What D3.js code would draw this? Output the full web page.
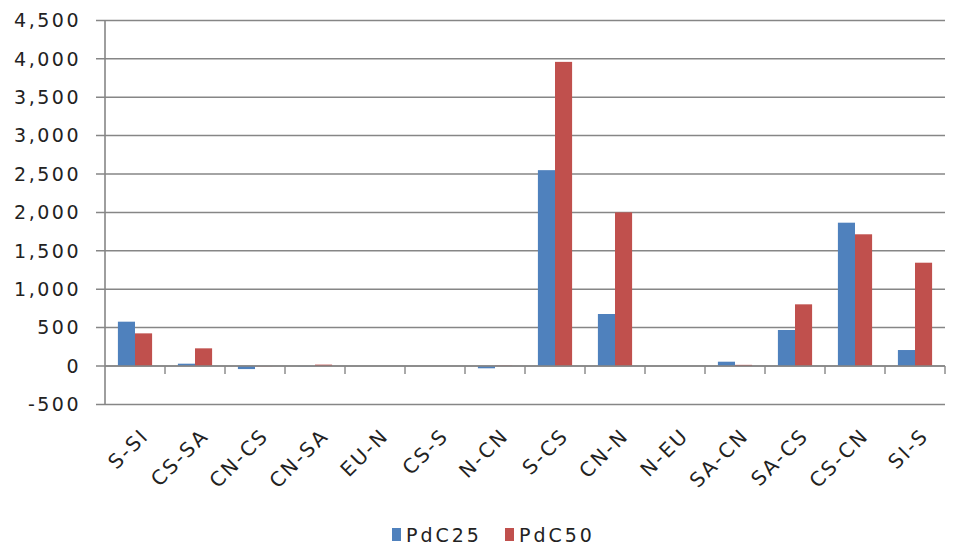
<!DOCTYPE html>
<html>
<head>
<meta charset="utf-8">
<script src="https://cdn.jsdelivr.net/npm/d3@7"></script>
<style>
  body { margin: 0; background: #fff; }
  svg { display: block; }
  text { font-family: "DejaVu Sans", Verdana, sans-serif; fill: #222; }
</style>
</head>
<body>
<svg id="chart" width="954" height="546"></svg>
<script>
// Flows between regions, two scenarios
const categories = ["S-SI", "CS-SA", "CN-CS", "CN-SA", "EU-N", "CS-S", "N-CN", "S-CS", "CN-N", "N-EU", "SA-CN", "SA-CS", "CS-CN", "SI-S"];
const seriesNames = ["PdC25", "PdC50"];
const pdc25 = [577, 30, -40, -3, 0, 0, -30, 2550, 677, 0, 56, 469, 1866, 208];
const pdc50 = [425, 230, -3, 18, 0, 0, 5, 3960, 2000, 0, 15, 803, 1715, 1345];
const yTicks = [-500, 0, 500, 1000, 1500, 2000, 2500, 3000, 3500, 4000, 4500];
const colors = ["#4F81BD", "#C0504D"];

const svg = d3.select("#chart");
const plotLeft = 105, plotRight = 945, plotTop = 20.4, plotBottom = 404.4;

const y = d3.scaleLinear().domain([-500, 4500]).range([plotBottom, plotTop]);
const x = d3.scaleBand().domain(categories).range([plotLeft, plotRight]).padding(0);
const xs = d3.scaleBand().domain(seriesNames)
  .range([x.bandwidth() * 0.215, x.bandwidth() * 0.785]).padding(0);

const gridColor = "#868686";
const fmt = d => d3.format(",")(d).replace("\u2212", "-");

// horizontal gridlines
svg.append("g")
  .selectAll("line")
  .data(yTicks)
  .join("line")
  .attr("x1", plotLeft - 9).attr("x2", plotRight)
  .attr("y1", d => y(d)).attr("y2", d => y(d))
  .attr("stroke", gridColor).attr("stroke-width", 1.5);

// y axis labels
svg.append("g")
  .selectAll("text")
  .data(yTicks)
  .join("text")
  .attr("x", 81).attr("y", d => y(d))
  .attr("dy", "0.36em")
  .attr("text-anchor", "end")
  .style("font-size", "19px")
  .style("letter-spacing", "2.5px")
  .text(fmt);

// bars
const rows = categories.map((c, i) => ({ cat: c, vals: [pdc25[i], pdc50[i]] }));
svg.append("g")
  .selectAll("g")
  .data(rows)
  .join("g")
  .attr("transform", d => `translate(${x(d.cat)},0)`)
  .selectAll("rect")
  .data(d => d.vals.map((v, j) => ({ key: seriesNames[j], v, j })))
  .join("rect")
  .attr("x", d => xs(d.key))
  .attr("width", xs.bandwidth())
  .attr("y", d => Math.min(y(d.v), y(0)))
  .attr("height", d => Math.abs(y(d.v) - y(0)))
  .attr("fill", d => colors[d.j]);

// y axis line
svg.append("line")
  .attr("x1", plotLeft).attr("x2", plotLeft)
  .attr("y1", plotTop).attr("y2", plotBottom)
  .attr("stroke", gridColor).attr("stroke-width", 1.6);

// category axis at zero with tick marks
svg.append("line")
  .attr("x1", plotLeft).attr("x2", plotRight)
  .attr("y1", y(0)).attr("y2", y(0))
  .attr("stroke", gridColor).attr("stroke-width", 1.6);
svg.append("g")
  .selectAll("line")
  .data(categories.map((d, i) => plotLeft + (i + 1) * x.step()))
  .join("line")
  .attr("x1", d => d).attr("x2", d => d)
  .attr("y1", y(0)).attr("y2", y(0) + 8)
  .attr("stroke", gridColor).attr("stroke-width", 1.4);

// rotated category labels
svg.append("g")
  .selectAll("text")
  .data(categories)
  .join("text")
  .attr("transform", d => `translate(${x(d) + x.bandwidth() / 2 + 5},${427}) rotate(-45)`)
  .attr("text-anchor", "end")
  .attr("dy", "0.7em")
  .style("font-size", "20px")
  .style("letter-spacing", "2.2px")
  .text(d => d);

// legend
const legend = svg.append("g").attr("transform", "translate(392,535)");
const items = [{ name: seriesNames[0], x: 0 }, { name: seriesNames[1], x: 113 }];
items.forEach((it, i) => {
  legend.append("rect")
    .attr("x", it.x).attr("y", -7).attr("width", 9).attr("height", 13)
    .attr("fill", colors[i]);
  legend.append("text")
    .attr("x", it.x + 14).attr("y", 7)
    .style("font-size", "19px")
    .style("letter-spacing", "3px")
    .text(it.name);
});
</script>
</body>
</html>
